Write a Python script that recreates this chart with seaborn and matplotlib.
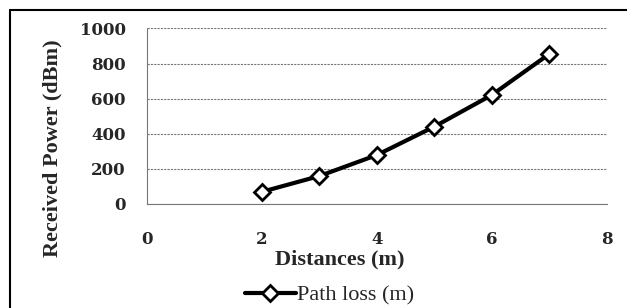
import matplotlib
matplotlib.use("Agg")
import matplotlib.pyplot as plt
from matplotlib.lines import Line2D
import seaborn as sns
import pandas as pd

# data
distances = [2, 3, 4, 5, 6, 7]
path_loss = [67, 157, 277, 439, 620, 854]
x_ticks = [0, 2, 4, 6, 8]
y_ticks = [0, 200, 400, 600, 800, 1000]

df = pd.DataFrame({"distance": distances, "path_loss": path_loss})

sns.set_style("white")
plt.rcParams["font.family"] = ["Liberation Serif", "DejaVu Serif"]

fig = plt.figure(figsize=(6.27, 3.08), dpi=100)
ax = fig.add_axes([0.234, 0.339, 0.7336, 0.5685])

sns.lineplot(
    data=df, x="distance", y="path_loss", ax=ax,
    color="black", linewidth=3, marker="D", markersize=8,
    markerfacecolor="white", markeredgecolor="black", markeredgewidth=2,
    label="Path loss (m)", legend=False,
)

ax.set_xlim(0, 8)
ax.set_ylim(0, 1000)
ax.set_xticks(x_ticks)
ax.set_yticks(y_ticks)
tick_font = dict(fontsize=12, fontweight="bold", family="DejaVu Serif")
ax.set_xticklabels([str(t) for t in x_ticks], **tick_font)
ax.set_yticklabels([str(t) for t in y_ticks], **tick_font)

ax.grid(axis="y", color="#777777", linestyle=(0, (2, 1)), linewidth=0.8)
ax.grid(axis="x", visible=False)
for side in ["top", "right"]:
    ax.spines[side].set_visible(False)
for side in ["left", "bottom"]:
    ax.spines[side].set_color("#777777")
    ax.spines[side].set_linestyle((0, (2, 1)))
    ax.spines[side].set_linewidth(0.8)
ax.tick_params(axis="both", length=4, width=0.8, color="#777777")
ax.tick_params(axis="y", pad=11)
ax.tick_params(axis="x", pad=16)

ax.set_xlabel("")
ax.set_ylabel("")
fig.text(0.542, 0.158, "Distances (m)", ha="center", va="center",
         fontsize=16, fontweight="bold")
fig.text(0.083, 0.519, "Received Power (dBm)", ha="center", va="center",
         rotation=90, fontsize=16, fontweight="bold")

handles, labels = ax.get_legend_handles_labels()
fig.legend(handles, labels, loc="center", bbox_to_anchor=(0.525, 0.042),
           frameon=False, fontsize=16, handlelength=2.3, handletextpad=0.05,
           borderpad=0.2)

# outer chart border (left and top edges visible in the reference)
fig.add_artist(Line2D([10 / 627, 10 / 627], [0, 1 - 10 / 308], color="black",
                      linewidth=1.5, transform=fig.transFigure))
fig.add_artist(Line2D([10 / 627, 1], [1 - 10 / 308, 1 - 10 / 308], color="black",
                      linewidth=1.5, transform=fig.transFigure))

fig.savefig("out.png", dpi=100)
